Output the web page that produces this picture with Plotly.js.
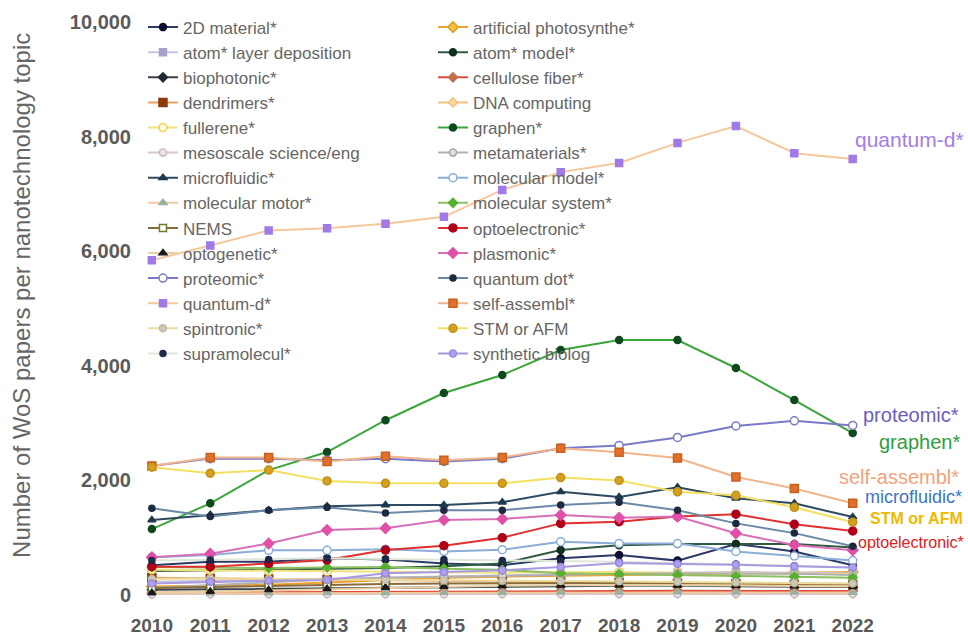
<!DOCTYPE html>
<html>
<head>
<meta charset="utf-8">
<script src="https://cdn.plot.ly/plotly-3.0.1.min.js"></script>
<style>
  html, body { margin: 0; padding: 0; background: #ffffff; }
  #chart { width: 968px; height: 638px; }
</style>
</head>
<body>
<div id="chart"></div>
<script>
// Publication years
const years = [2010, 2011, 2012, 2013, 2014, 2015, 2016, 2017, 2018, 2019, 2020, 2021, 2022];

// Papers per topic and year (Web of Science search terms)
const v2DMaterial       = [520, 580, 580, 640, 620, 550, 520, 640, 700, 600, 890, 760, 520];
const vArtificialPhoto  = [150, 160, 180, 220, 260, 300, 320, 340, 350, 360, 380, 390, 400];
const vAtomLayerDep     = [230, 250, 270, 290, 310, 330, 350, 370, 380, 390, 400, 390, 380];
const vAtomModel        = [420, 430, 440, 450, 470, 500, 550, 785, 870, 890, 890, 890, 830];
const vBiophotonic      = [90, 100, 110, 120, 130, 140, 150, 150, 160, 160, 150, 150, 140];
const vCelluloseFiber   = [40, 45, 50, 55, 60, 62, 65, 68, 70, 72, 70, 70, 68];
const vDendrimers       = [300, 290, 280, 265, 255, 245, 235, 225, 215, 205, 195, 185, 175];
const vDNAComputing     = [20, 20, 22, 22, 25, 25, 24, 23, 22, 22, 20, 20, 18];
const vFullerene        = [440, 430, 420, 410, 400, 395, 390, 395, 400, 390, 380, 370, 360];
const vGraphen          = [1150, 1600, 2180, 2495, 3050, 3525, 3840, 4276, 4450, 4450, 3962, 3403, 2827];
const vMesoscale        = [10, 12, 12, 14, 15, 15, 16, 18, 17, 18, 20, 19, 20];
const vMetamaterials    = [120, 170, 220, 270, 300, 320, 340, 360, 370, 380, 380, 370, 350];
const vMicrofluidic     = [1310, 1400, 1480, 1550, 1570, 1570, 1620, 1800, 1710, 1880, 1690, 1600, 1360];
const vMolecularModel   = [660, 700, 780, 780, 800, 760, 790, 930, 900, 900, 760, 680, 600];
const vMolecularMotor   = [30, 32, 35, 38, 40, 42, 45, 48, 50, 52, 50, 48, 45];
const vMolecularSystem  = [490, 480, 470, 480, 490, 460, 440, 380, 360, 350, 330, 320, 300];
const vNEMS             = [120, 140, 160, 180, 190, 200, 205, 210, 210, 205, 200, 195, 190];
const vOptoelectronic   = [495, 495, 550, 610, 785, 860, 1000, 1250, 1280, 1370, 1410, 1234, 1117];
const vOptogenetic      = [40, 60, 90, 110, 130, 150, 160, 170, 175, 170, 165, 160, 150];
const vPlasmonic        = [660, 720, 900, 1135, 1164, 1310, 1327, 1396, 1350, 1370, 1077, 873, 780];
const vProteomic        = [2250, 2380, 2380, 2350, 2380, 2330, 2380, 2560, 2610, 2750, 2950, 3040, 2960];
const vQuantumDot       = [1515, 1370, 1480, 1530, 1430, 1480, 1480, 1570, 1620, 1480, 1250, 1080, 850];
const vQuantumD         = [5840, 6100, 6360, 6400, 6480, 6600, 7070, 7380, 7540, 7890, 8185, 7710, 7610];
const vSelfAssembl      = [2250, 2400, 2400, 2330, 2420, 2350, 2400, 2560, 2490, 2390, 2060, 1860, 1600];
const vSpintronic       = [280, 290, 280, 270, 265, 255, 250, 245, 240, 230, 220, 210, 200];
const vSTMAFM           = [2230, 2125, 2180, 1990, 1950, 1950, 1950, 2050, 2000, 1800, 1740, 1530, 1270];
const vSupramolecul     = [600, 610, 620, 640, 630, 620, 600, 590, 580, 560, 540, 510, 480];
const vSyntheticBiolog  = [200, 230, 250, 260, 380, 400, 430, 490, 560, 540, 530, 500, 480];

// Topic names, alphabetical (legend reads row by row across two columns)
const topicNames = [
  "2D material*", "artificial photosynthe*", "atom* layer deposition", "atom* model*",
  "biophotonic*", "cellulose fiber*", "dendrimers*", "DNA computing",
  "fullerene*", "graphen*", "mesoscale science/eng", "metamaterials*",
  "microfluidic*", "molecular model*", "molecular motor*", "molecular system*",
  "NEMS", "optoelectronic*", "optogenetic*", "plasmonic*",
  "proteomic*", "quantum dot*", "quantum-d*", "self-assembl*",
  "spintronic*", "STM or AFM", "supramolecul*", "synthetic biolog"
];
const topicValues = [
  v2DMaterial, vArtificialPhoto, vAtomLayerDep, vAtomModel,
  vBiophotonic, vCelluloseFiber, vDendrimers, vDNAComputing,
  vFullerene, vGraphen, vMesoscale, vMetamaterials,
  vMicrofluidic, vMolecularModel, vMolecularMotor, vMolecularSystem,
  vNEMS, vOptoelectronic, vOptogenetic, vPlasmonic,
  vProteomic, vQuantumDot, vQuantumD, vSelfAssembl,
  vSpintronic, vSTMAFM, vSupramolecul, vSyntheticBiolog
];

// Per-topic styling: [line colour, marker fill, marker outline, symbol, marker size]
const topicStyles = [
  ["#2b3a67", "#0d1030", "#0d1030", "circle", 7],
  ["#f0a030", "#f5c040", "#e0a020", "diamond", 8],
  ["#c9c3e0", "#a6a2c8", "#a6a2c8", "square", 7],
  ["#2e5a40", "#123020", "#123020", "circle", 7],
  ["#39424e", "#222a33", "#222a33", "diamond", 7],
  ["#e04a3a", "#c07050", "#c07050", "diamond", 7],
  ["#e8a066", "#8a3a0a", "#8a3a0a", "square", 8],
  ["#f6c080", "#f8d8a0", "#f0c080", "diamond", 7],
  ["#f2e27a", "#fffbe0", "#f0d050", "circle", 8],
  ["#3aa63a", "#0e4a1e", "#0e4a1e", "circle", 7],
  ["#d8c8d0", "#eee6ee", "#c8b8c8", "circle", 7],
  ["#b0b0b0", "#e0e0e0", "#a8a8a8", "circle", 7],
  ["#2f4a60", "#1e3a4e", "#1e3a4e", "triangle-up", 7],
  ["#8aaed8", "#ffffff", "#8aaed8", "circle", 8],
  ["#f0c8a0", "#98b0a0", "#98b0a0", "triangle-up", 7],
  ["#8cc060", "#58b030", "#58b030", "diamond", 7],
  ["#8a6a3a", "#ffffff", "#6b7b2b", "square", 7],
  ["#e03030", "#b00018", "#b00018", "circle", 8],
  ["#e8d0a0", "#1a1a1a", "#1a1a1a", "triangle-up", 7],
  ["#d870b8", "#e050a8", "#e050a8", "diamond", 8],
  ["#7a78c8", "#ffffff", "#7a7ac0", "circle", 8],
  ["#6a88a8", "#1d2a40", "#1d2a40", "circle", 6],
  ["#f5c89a", "#a07ae6", "#a07ae6", "square", 7],
  ["#f2b48a", "#e0702a", "#c86020", "square", 8],
  ["#eadc9a", "#d0c8b8", "#c0b8a8", "circle", 7],
  ["#f4e060", "#d4a020", "#c09018", "circle", 8],
  ["#dfe8d8", "#1d2a4a", "#1d2a4a", "circle", 6],
  ["#a89ae0", "#b0a0f0", "#9888e0", "circle", 7]
];

const traces = topicNames.map((name, i) => {
  const s = topicStyles[i];
  return {
    type: "scatter",
    mode: "lines+markers",
    name: name,
    x: years,
    y: topicValues[i],
    legend: i % 2 === 0 ? "legend" : "legend2",
    cliponaxis: false,
    line: { color: s[0], width: 2 },
    marker: { color: s[1], symbol: s[3], size: s[4], line: { color: s[2], width: 1.5 } },
    hoverinfo: "x+y+name"
  };
});

// End-of-line labels for the leading topics
const endLabels = [
  { name: "quantum-d*",      color: "#a47ce6", size: 21, bold: false, dx: 0,   dy: 19 },
  { name: "proteomic*",      color: "#6a5cc4", size: 20, bold: false, dx: 8,   dy: 10 },
  { name: "graphen*",        color: "#2e9e3e", size: 20, bold: false, dx: 24,  dy: -9 },
  { name: "self-assembl*",   color: "#f2a27a", size: 20, bold: false, dx: -16, dy: 26 },
  { name: "microfluidic*",   color: "#3a74c8", size: 18, bold: false, dx: 10,  dy: 20 },
  { name: "STM or AFM",      color: "#f0b800", size: 16, bold: true,  dx: 15,  dy: 4 },
  { name: "optoelectronic*", color: "#e02020", size: 16, bold: false, dx: 3,   dy: -11 }
];

const annotations = endLabels.map(l => {
  const idx = topicNames.indexOf(l.name);
  const vals = topicValues[idx];
  return {
    xref: "x", yref: "y",
    x: years[years.length - 1],
    y: vals[vals.length - 1],
    text: l.name,
    showarrow: false,
    xanchor: "left", yanchor: "middle",
    xshift: l.dx, yshift: l.dy,
    font: { family: "Liberation Sans, Arial, sans-serif", size: l.size, color: l.color, weight: l.bold ? "bold" : "normal" }
  };
});

// Vertical axis caption, set in the left margin
annotations.push({
  xref: "paper", yref: "paper",
  x: -0.1486, y: 0.522,
  xanchor: "center", yanchor: "middle",
  textangle: -90,
  showarrow: false,
  text: "Number of WoS papers per nanotechnology topic",
  font: { family: "Liberation Sans, Arial, sans-serif", size: 24, color: "#666666" }
});

const legendFont = { family: "Liberation Sans, Arial, sans-serif", size: 17, color: "#666666" };

const layout = {
  width: 968,
  height: 638,
  paper_bgcolor: "#ffffff",
  plot_bgcolor: "#ffffff",
  margin: { l: 132, r: 96, t: 22, b: 43, autoexpand: false },
  showlegend: true,
  legend: {
    xref: "container", yref: "container",
    x: 0.1477, y: 0.985, xanchor: "left", yanchor: "top",
    maxheight: 600,
    bgcolor: "rgba(255,255,255,0)", borderwidth: 0,
    font: legendFont, tracegroupgap: 0, itemwidth: 30
  },
  legend2: {
    xref: "container", yref: "container",
    x: 0.4473, y: 0.985, xanchor: "left", yanchor: "top",
    maxheight: 600,
    bgcolor: "rgba(255,255,255,0)", borderwidth: 0,
    font: legendFont, tracegroupgap: 0, itemwidth: 30
  },
  xaxis: {
    range: [2009.66, 2022.33],
    tickmode: "array",
    tickvals: years,
    ticktext: years.map(String),
    tickangle: 0,
    ticklabelstandoff: 17,
    showgrid: false, zeroline: false, showline: false, ticks: "",
    tickfont: { family: "Liberation Sans, Arial, sans-serif", size: 19, color: "#5a5a5a", weight: "bold" }
  },
  yaxis: {
    range: [0, 10000],
    tickmode: "array",
    tickvals: [0, 2000, 4000, 6000, 8000, 10000],
    tickformat: ",d",
    showgrid: false, zeroline: false, showline: false, ticks: "",
    tickfont: { family: "Liberation Sans, Arial, sans-serif", size: 20, color: "#5a5a5a", weight: "bold" }
  },
  annotations: annotations
};

Plotly.newPlot("chart", traces, layout, { displayModeBar: false, staticPlot: true });
</script>
</body>
</html>
